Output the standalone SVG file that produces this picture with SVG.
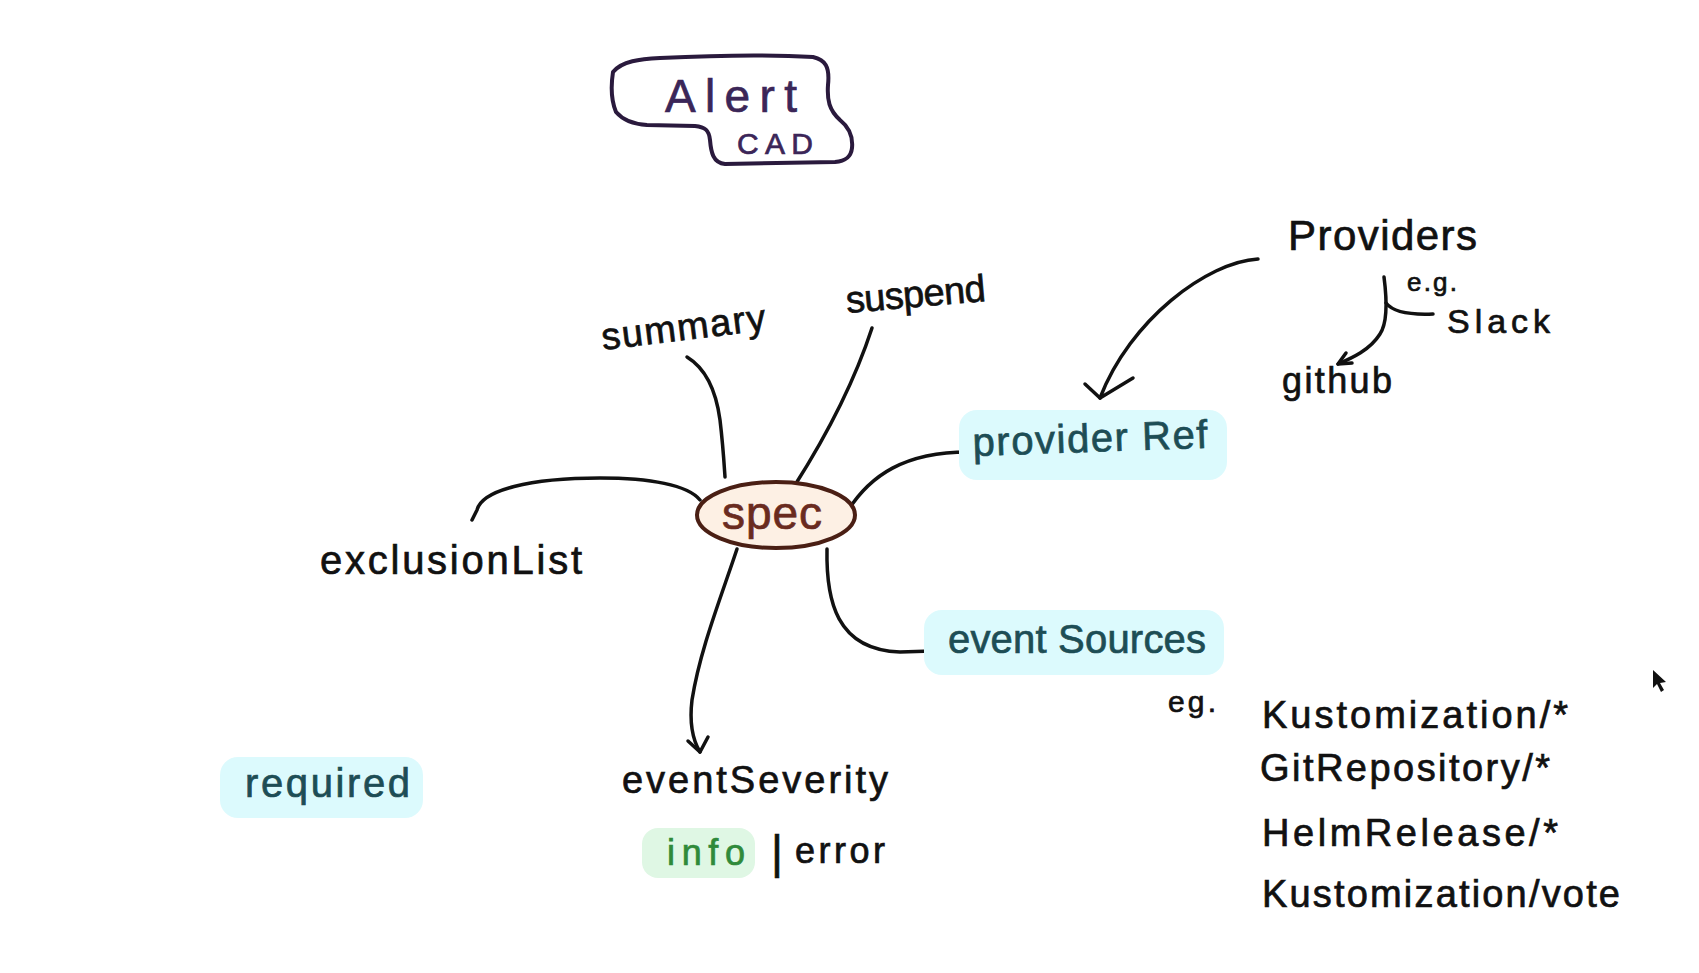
<svg xmlns="http://www.w3.org/2000/svg" width="1699" height="973" viewBox="0 0 1699 973">
<style>
  .t{font-family:"Liberation Sans","Open Sans",Arial,sans-serif;fill:#111;stroke:#111;stroke-width:0.7}
  .teal{fill:#1d4d55;stroke:#1d4d55}
  .hl{fill:#dcfafd}
  .hlg{fill:#dff7e4}
  .ln{fill:none;stroke:#111;stroke-width:3.5;stroke-linecap:round;stroke-linejoin:round}
</style>
<rect x="0" y="0" width="1699" height="973" fill="#ffffff"/>

<g id="connectors">
  <path class="ln" d="M687,357 C705,368 716,390 720,420 C723,445 724,462 725,477"/>
  <path class="ln" d="M872,328 C855,380 830,430 795,485"/>
  <path class="ln" d="M847,512 C870,475 905,452 968,452"/>
  <path class="ln" d="M700,500 C688,485 650,478 600,478 C530,478 482,490 477,510 L472,520"/>
  <path class="ln" d="M737,549 C720,600 700,650 692,700 C689,725 694,742 700,752"/>
  <path class="ln" d="M688,741 L700,752 L708,737"/>
  <path class="ln" d="M827,549 C826,600 836,650 900,652 L932,651"/>
  <path class="ln" d="M1258,259 C1207,262 1130,320 1100,398"/>
  <path class="ln" d="M1085,384 L1100,398 L1133,378"/>
  <path class="ln" d="M1384,277 C1387,300 1388,322 1380,334 C1370,350 1352,358 1338,364"/>
  <path class="ln" d="M1346,353 L1338,364 L1352,363"/>
  <path class="ln" d="M1386,303 C1393,312 1410,315 1433,314"/>
</g>

<g id="alert">
  <path d="M613,72 C622,61 640,59 660,58 C720,55 780,55 813,57 C825,60 830,66 828,85 C827,100 829,110 840,120 C850,128 853,138 852,148 C851,157 846,161 835,162 L725,164 C713,163 711,152 710,140 C709,130 705,127 695,126 L647,125 C630,124 622,119 616,112 C611,100 611,85 613,72 Z" fill="#ffffff" stroke="#2a1a3d" stroke-width="4" stroke-linejoin="round"/>
  <text class="t" x="665" y="112" font-size="46" textLength="132" style="fill:#3b2658;stroke:#3b2658">Alert</text>
  <text class="t" x="737" y="154" font-size="30" textLength="76" style="fill:#3b2658;stroke:#3b2658">CAD</text>
</g>

<g id="spec">
  <ellipse cx="776" cy="515" rx="79" ry="33" fill="#fdf0e4" stroke="#4a1f14" stroke-width="4"/>
  <text class="t" x="722" y="529" font-size="46" textLength="100" style="fill:#6a2b1f;stroke:#6a2b1f">spec</text>
</g>

<g id="summary">
  <text class="t" x="603" y="350" font-size="38" textLength="165" transform="rotate(-7 603 350)">summary</text>
</g>

<g id="suspend">
  <text class="t" x="847" y="313" font-size="38" textLength="140" transform="rotate(-5 847 313)">suspend</text>
</g>

<g id="providerRef">
  <rect class="hl" x="959" y="410" width="268" height="70" rx="18"/>
  <text class="t teal" x="973" y="456" font-size="40" textLength="235" transform="rotate(-2 973 456)">provider Ref</text>
</g>

<g id="eventSources">
  <rect class="hl" x="924" y="610" width="300" height="65" rx="18"/>
  <text class="t teal" x="948" y="653" font-size="40" textLength="258">event Sources</text>
</g>

<g id="exclusionList">
  <text class="t" x="320" y="574" font-size="40" textLength="262">exclusionList</text>
</g>

<g id="eventSeverity">
  <text class="t" x="622" y="793" font-size="38" textLength="266">eventSeverity</text>
  <rect class="hlg" x="642" y="828" width="113" height="50" rx="16"/>
  <text class="t" x="667" y="865" font-size="36" textLength="78" style="fill:#2f8a3a;stroke:#2f8a3a">info</text>
  <text class="t" x="771" y="868" font-size="46">|</text>
  <text class="t" x="795" y="863" font-size="36" textLength="90">error</text>
</g>

<g id="required">
  <rect class="hl" x="220" y="757" width="203" height="61" rx="18"/>
  <text class="t teal" x="245" y="797" font-size="40" textLength="165">required</text>
</g>

<g id="providers">
  <text class="t" x="1288" y="250" font-size="42" textLength="189">Providers</text>
  <text class="t" x="1407" y="291" font-size="26" textLength="50">e.g.</text>
  <text class="t" x="1447" y="333" font-size="34" textLength="103">Slack</text>
  <text class="t" x="1282" y="393" font-size="36" textLength="110">github</text>
</g>

<g id="examples">
  <text class="t" x="1168" y="712" font-size="30" textLength="48">eg.</text>
  <text class="t" x="1262" y="728" font-size="38" textLength="306">Kustomization/*</text>
  <text class="t" x="1260" y="781" font-size="38" textLength="290">GitRepository/*</text>
  <text class="t" x="1262" y="846" font-size="38" textLength="296">HelmRelease/*</text>
  <text class="t" x="1262" y="907" font-size="38" textLength="358">Kustomization/vote</text>
</g>

<path d="M1653,670 L1653,688 L1657,684 L1661,692 L1664,690 L1660,683 L1666,682 Z" fill="#111"/>
</svg>
